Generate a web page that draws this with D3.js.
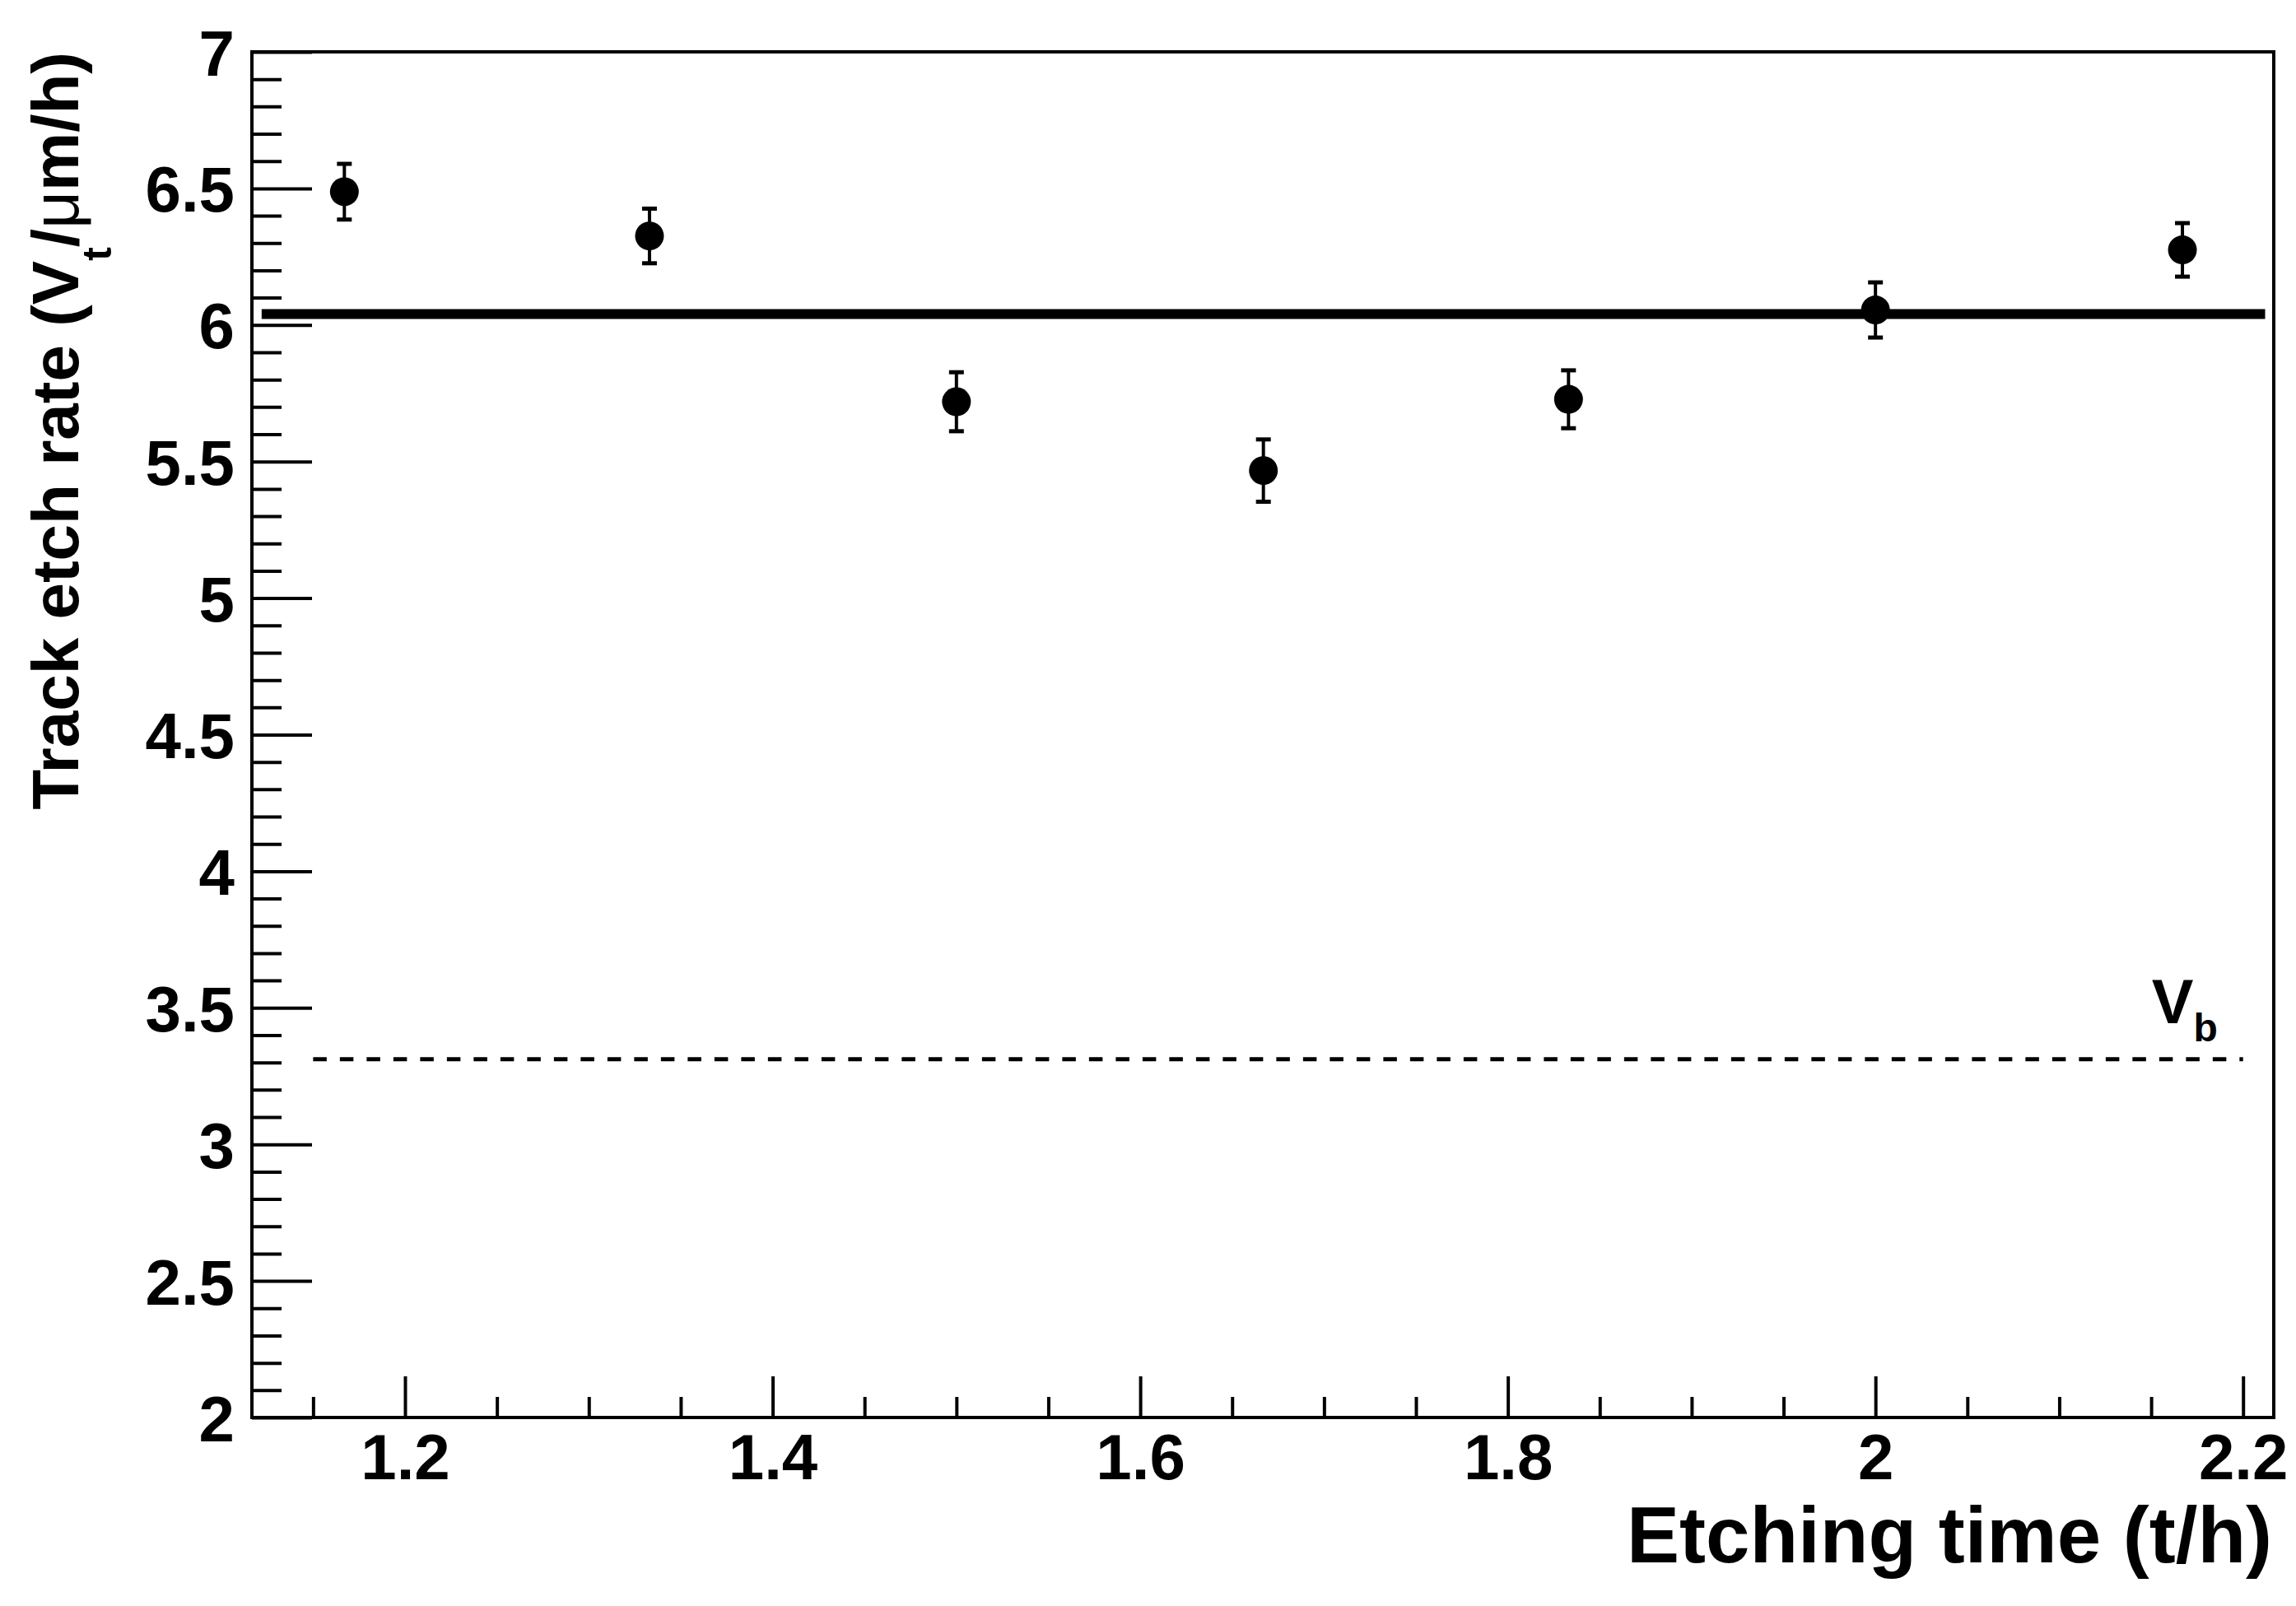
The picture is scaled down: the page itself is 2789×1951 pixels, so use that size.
<!DOCTYPE html>
<html>
<head>
<meta charset="utf-8">
<script src="https://cdn.jsdelivr.net/npm/d3@7"></script>
<style>
  body { margin: 0; background: #fff; }
  svg text { font-family: "Liberation Sans", Arial, Helvetica, sans-serif; font-weight: bold; fill: #000; }
</style>
</head>
<body>
<div id="chart"></div>
<script>
// ==== Data ====
const etchTime = [1.167, 1.333, 1.5, 1.667, 1.833, 2.0, 2.167];
const etchRate = [6.488, 6.326, 5.719, 5.467, 5.728, 6.055, 6.275];
const rateErr  = [0.102, 0.100, 0.108, 0.114, 0.106, 0.101, 0.098];

const fitRate  = 6.04;            // mean track etch rate (thick line)
const fitSpan  = [1.122, 2.212];
const bulkRate = 3.312;           // V_b (dashed line)
const bulkSpan = [1.15, 2.2];

const xMajorTicks = [1.2, 1.4, 1.6, 1.8, 2.0, 2.2];
const xTickLabels = ["1.2", "1.4", "1.6", "1.8", "2", "2.2"];
const yMajorTicks = [2, 2.5, 3, 3.5, 4, 4.5, 5, 5.5, 6, 6.5, 7];
const yTickLabels = ["2", "2.5", "3", "3.5", "4", "4.5", "5", "5.5", "6", "6.5", "7"];

// ==== Setup ====
const width = 2789, height = 1951;
const svg = d3.select("#chart").append("svg")
  .attr("width", width)
  .attr("height", height);

const x = d3.scaleLinear().domain([1.1167, 2.2167]).range([306, 2762]);
const y = d3.scaleLinear().domain([2, 7]).range([1722, 63]);

const xMinorTicks = d3.range(0, 22).map(i => +(1.15 + i * 0.05).toFixed(2)).filter(v => !xMajorTicks.includes(v));
const yMinorTicks = d3.range(0, 51).map(i => +(2 + i * 0.1).toFixed(1)).filter(v => !yMajorTicks.includes(v));

const lw = 4;

function styleAxis(g) {
  g.select(".domain").remove();
  g.selectAll(".tick line").attr("stroke", "#000").attr("stroke-width", lw);
  g.selectAll(".tick text").attr("font-size", 78).attr("fill", "#000");
}

// x axis (ticks point inward)
svg.append("g")
  .attr("transform", `translate(0,${y(2)})`)
  .call(d3.axisBottom(x).tickValues(xMinorTicks).tickSize(-25).tickFormat(""))
  .call(styleAxis);
svg.append("g")
  .attr("transform", `translate(0,${y(2)})`)
  .call(d3.axisBottom(x).tickValues(xMajorTicks).tickSize(-50).tickPadding(20)
    .tickFormat((d, i) => xTickLabels[i]))
  .call(styleAxis);

// y axis
svg.append("g")
  .attr("transform", `translate(${x.range()[0]},0)`)
  .call(d3.axisLeft(y).tickValues(yMinorTicks).tickSize(-36).tickFormat(""))
  .call(styleAxis);
svg.append("g")
  .attr("transform", `translate(${x.range()[0]},0)`)
  .call(d3.axisLeft(y).tickValues(yMajorTicks).tickSize(-73).tickPadding(21)
    .tickFormat((d, i) => yTickLabels[i]))
  .call(styleAxis)
  .call(g => g.selectAll(".tick text").attr("dy", "0.36em"));

// frame
svg.append("rect")
  .attr("x", x.range()[0]).attr("y", y.range()[1])
  .attr("width", x.range()[1] - x.range()[0])
  .attr("height", y.range()[0] - y.range()[1])
  .attr("fill", "none").attr("stroke", "#000").attr("stroke-width", lw);

// bulk etch rate (dashed)
svg.append("line")
  .attr("x1", x(bulkSpan[0])).attr("x2", x(bulkSpan[1]))
  .attr("y1", y(bulkRate)).attr("y2", y(bulkRate))
  .attr("stroke", "#000").attr("stroke-width", 5)
  .attr("stroke-dasharray", "16.5,16");

// mean track etch rate (thick)
svg.append("line")
  .attr("x1", x(fitSpan[0])).attr("x2", x(fitSpan[1]))
  .attr("y1", y(fitRate)).attr("y2", y(fitRate))
  .attr("stroke", "#000").attr("stroke-width", 12);

// error bars + markers
const pts = etchTime.map((t, i) => ({ t, v: etchRate[i], e: rateErr[i] }));
const pg = svg.append("g");
pg.selectAll(".err").data(pts).join("line")
  .attr("x1", d => x(d.t)).attr("x2", d => x(d.t))
  .attr("y1", d => y(d.v + d.e)).attr("y2", d => y(d.v - d.e))
  .attr("stroke", "#000").attr("stroke-width", lw);
[1, -1].forEach(s => {
  pg.selectAll(".cap" + s).data(pts).join("line")
    .attr("x1", d => x(d.t) - 9).attr("x2", d => x(d.t) + 9)
    .attr("y1", d => y(d.v + s * d.e)).attr("y2", d => y(d.v + s * d.e))
    .attr("stroke", "#000").attr("stroke-width", 5);
});
pg.selectAll("circle").data(pts).join("circle")
  .attr("cx", d => x(d.t)).attr("cy", d => y(d.v))
  .attr("r", 17.5).attr("fill", "#000");

// V_b label
const vb = svg.append("text")
  .attr("x", x(2.1503)).attr("y", y(bulkRate) - 44)
  .attr("font-size", 76);
vb.append("tspan").text("V");
vb.append("tspan").attr("dy", 22).attr("font-size", 48).text("b");

// axis titles
svg.append("text")
  .attr("x", x.range()[1] - 2).attr("y", 1898)
  .attr("text-anchor", "end")
  .attr("font-size", 96)
  .text("Etching time (t/h)");

const yt = svg.append("text")
  .attr("transform", `translate(95,${y.range()[1]}) rotate(-90)`)
  .attr("text-anchor", "end")
  .attr("font-size", 80);
yt.append("tspan").text("Track etch rate (V");
yt.append("tspan").attr("dy", 40).attr("font-size", 50).text("t");
yt.append("tspan").attr("dy", -40).text("/");
yt.append("tspan").attr("font-weight", "normal").text("\u03bc");
yt.append("tspan").text("m/h)");
</script>
</body>
</html>
